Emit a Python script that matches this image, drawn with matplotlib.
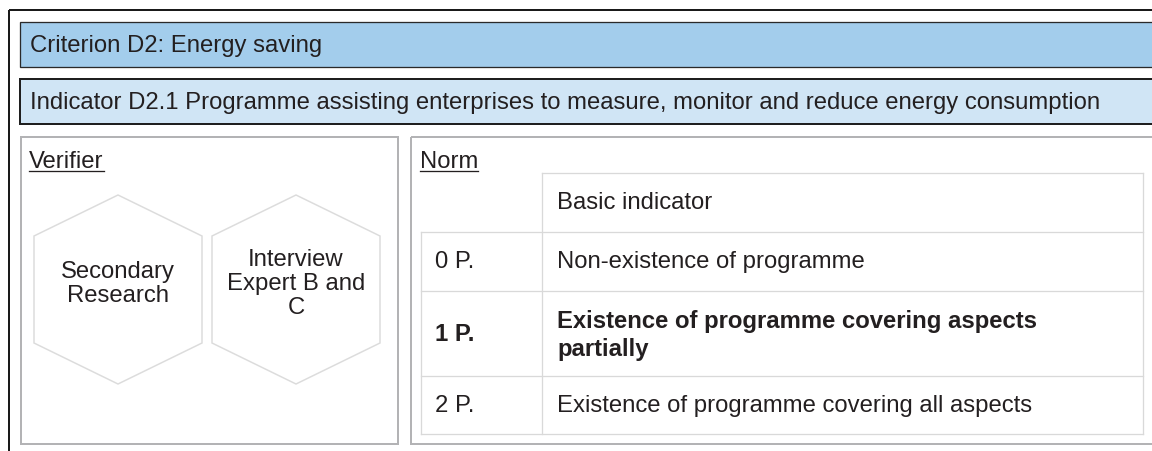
import matplotlib
matplotlib.use("Agg")
import matplotlib.pyplot as plt
from matplotlib.patches import Rectangle, Polygon

# ---- content ----
criterion = "Criterion D2: Energy saving"
indicator = "Indicator D2.1 Programme assisting enterprises to measure, monitor and reduce energy consumption"
verifier_title = "Verifier"
verifiers = ["Secondary\nResearch", "Interview\nExpert B and\nC"]
norm_title = "Norm"
norm_header = "Basic indicator"
points = ["0 P.", "1 P.", "2 P."]
norms = ["Non-existence of programme",
         "Existence of programme covering aspects\npartially",
         "Existence of programme covering all aspects"]
highlight = [False, True, False]

# ---- style ----
TXT = "#231f20"
FS = 17.2
plt.rcParams['font.family'] = ['Liberation Sans', 'DejaVu Sans']

W, H = 1152, 452
fig = plt.figure(figsize=(W / 100, H / 100), dpi=100)
ax = fig.add_axes([0, 0, 1, 1])
ax.set_xlim(0, W)
ax.set_ylim(H, 0)
ax.axis('off')

px = 0.72  # points per pixel

# outer frame
ax.add_patch(Rectangle((9, 11), 1200, 500, fill=False, ec="#1a1a1a", lw=2 * px))
# criterion bar
ax.add_patch(Rectangle((20, 23), 1200, 45, fc="#a3cdec", ec="#2a2a2a", lw=1.3 * px))
ax.text(30, 46, criterion, fontsize=FS, color=TXT, va="center", ha="left")
# indicator bar
ax.add_patch(Rectangle((20, 80), 1200, 45, fc="#d0e5f5", ec="#1f1f1f", lw=2 * px))
ax.text(30, 103, indicator, fontsize=FS, color=TXT, va="center", ha="left")

# verifier box
ax.add_patch(Rectangle((21, 138), 377, 307, fill=False, ec="#b3b3b5", lw=2 * px))
# norm box
ax.add_patch(Rectangle((411, 138), 800, 307, fill=False, ec="#b3b3b5", lw=2 * px))

titles = []
titles.append(ax.text(29, 162, verifier_title, fontsize=FS, color=TXT, va="center", ha="left"))
titles.append(ax.text(420, 162, norm_title, fontsize=FS, color=TXT, va="center", ha="left"))

# hexagons
hex_cx = [118, 296]
hex_top, hex_bot = 196, 385
hex_w = 168
side_top, side_bot = 237, 344
for cx, label in zip(hex_cx, verifiers):
    l, r = cx - hex_w / 2, cx + hex_w / 2
    verts = [(cx, hex_top), (r, side_top), (r, side_bot), (cx, hex_bot), (l, side_bot), (l, side_top)]
    ax.add_patch(Polygon(verts, closed=True, fc="white", ec="#dcdcdc", lw=1.5 * px))
    ax.text(cx, 284, label, fontsize=FS, color=TXT, ha="center", va="center",
            multialignment="center", linespacing=1.14)

# norm table
col_x0, col_x1, col_x2 = 421, 542, 1143
row_y = [174, 233, 292, 377, 435]
GRID = "#d9d9d9"
lw = 1.3 * px
ax.plot([col_x1, col_x2], [row_y[0], row_y[0]], color=GRID, lw=lw)
ax.plot([col_x1, col_x1], [row_y[0], row_y[-1]], color=GRID, lw=lw)
ax.plot([col_x2, col_x2], [row_y[0], row_y[-1]], color=GRID, lw=lw)
ax.plot([col_x0, col_x0], [row_y[1], row_y[-1]], color=GRID, lw=lw)
for y in row_y[1:]:
    ax.plot([col_x0, col_x2], [y, y], color=GRID, lw=lw)

ax.text(557, (row_y[0] + row_y[1]) / 2, norm_header, fontsize=FS, color=TXT, va="center", ha="left")
for i, (p, n, hl) in enumerate(zip(points, norms, highlight)):
    yc = (row_y[i + 1] + row_y[i + 2]) / 2
    w = "bold" if hl else "normal"
    ax.text(435, yc, p, fontsize=FS, color=TXT, va="center", ha="left", fontweight=w)
    ax.text(557, yc + (1 if hl else 0), n, fontsize=FS, color=TXT, va="center", ha="left",
            fontweight=w, linespacing=1.3)

# underline titles
fig.canvas.draw()
inv = ax.transData.inverted()
for t in titles:
    bb = t.get_window_extent()
    (x0, _), (x1, _) = inv.transform([(bb.x0, bb.y0), (bb.x1, bb.y0)])
    ax.plot([x0, x1], [172, 172], color=TXT, lw=1.3 * px)

fig.savefig("out.png", dpi=100)
